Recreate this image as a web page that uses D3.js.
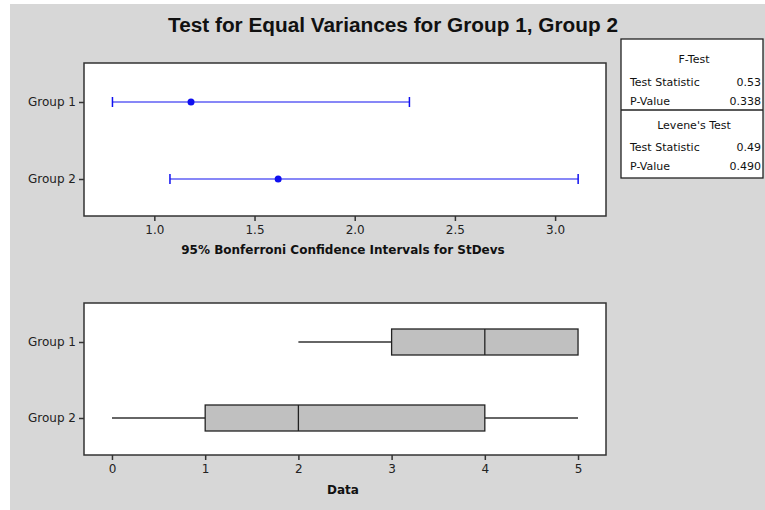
<!DOCTYPE html>
<html><head><meta charset="utf-8">
<script src="https://cdn.jsdelivr.net/npm/d3@7"></script>
<style>body{margin:0;background:#fff}svg{display:block}</style>
</head><body><svg id="c" width="765" height="510"></svg>
<script>
const groups = ["Group 1", "Group 2"];
const ciLow = [0.791, 1.078];
const ciEst = [1.183, 1.618];
const ciHigh = [2.273, 3.115];
const ciTicks = [1.0, 1.5, 2.0, 2.5, 3.0];
const boxMin = [2, 0];
const boxQ1 = [3, 1];
const boxMed = [4, 2];
const boxQ3 = [5, 4];
const boxMax = [5, 5];
const dataTicks = [0, 1, 2, 3, 4, 5];
const fTestRows = [["Test Statistic", "0.53"], ["P-Value", "0.338"]];
const leveneRows = [["Test Statistic", "0.49"], ["P-Value", "0.490"]];

const svg = d3.select("#c");
const FONT = "DejaVu Sans, Verdana, sans-serif";
svg.append("rect").attr("x", 10).attr("y", 4).attr("width", 755).attr("height", 506).attr("fill", "#d7d7d7");

svg.append("text").attr("x", 393).attr("y", 32).attr("text-anchor", "middle")
  .attr("font-family", "Liberation Sans, Arial, sans-serif").attr("font-weight", "bold")
  .attr("font-size", 20).attr("fill", "#111")
  .attr("textLength", 450).attr("lengthAdjust", "spacingAndGlyphs")
  .text("Test for Equal Variances for Group 1, Group 2");

function panel(top, bottom, xDomain) {
  const x = d3.scaleLinear().domain(xDomain).range([84, 606]);
  const y = d3.scalePoint().domain(groups).range([top + 39, bottom - 37]);
  svg.append("rect").attr("x", 84).attr("y", top).attr("width", 522).attr("height", bottom - top)
    .attr("fill", "#fff").attr("stroke", "#333").attr("stroke-width", 1.5);
  return {x, y};
}
function styleAxis(g) {
  g.select(".domain").remove();
  g.selectAll(".tick line").attr("stroke", "#333").attr("stroke-width", 1.5);
  g.selectAll(".tick text").attr("fill", "#222").attr("font-family", FONT).attr("font-size", 12);
}

// Top panel: CIs
const p1 = panel(63, 216, [0.649, 3.254]);
svg.append("g").attr("transform", "translate(0,216)")
  .call(d3.axisBottom(p1.x).tickValues(ciTicks).tickFormat(d3.format(".1f")).tickSize(5).tickPadding(4))
  .call(styleAxis);
svg.append("g").attr("transform", "translate(84,0)")
  .call(d3.axisLeft(p1.y).tickSize(5).tickPadding(3))
  .call(styleAxis);
svg.append("text").attr("x", 343).attr("y", 254).attr("text-anchor", "middle")
  .attr("font-family", FONT).attr("font-weight", "bold").attr("font-size", 12).attr("fill", "#111")
  .text("95% Bonferroni Confidence Intervals for StDevs");
const blue = "#1010f0";
groups.forEach((g, i) => {
  const yy = p1.y(g);
  svg.append("line").attr("x1", p1.x(ciLow[i])).attr("x2", p1.x(ciHigh[i])).attr("y1", yy).attr("y2", yy)
    .attr("stroke", blue).attr("stroke-width", 1.2);
  [ciLow[i], ciHigh[i]].forEach(v => svg.append("line").attr("x1", p1.x(v)).attr("x2", p1.x(v))
    .attr("y1", yy - 5).attr("y2", yy + 5).attr("stroke", blue).attr("stroke-width", 1.5));
  svg.append("circle").attr("cx", p1.x(ciEst[i])).attr("cy", yy).attr("r", 3.5).attr("fill", blue);
});

// Bottom panel: boxplots
const p2 = panel(303, 455, [-0.30, 5.30]);
svg.append("g").attr("transform", "translate(0,455)")
  .call(d3.axisBottom(p2.x).tickValues(dataTicks).tickFormat(d3.format("d")).tickSize(5).tickPadding(4))
  .call(styleAxis);
svg.append("g").attr("transform", "translate(84,0)")
  .call(d3.axisLeft(p2.y).tickSize(5).tickPadding(3))
  .call(styleAxis);
svg.append("text").attr("x", 343).attr("y", 494).attr("text-anchor", "middle")
  .attr("font-family", FONT).attr("font-weight", "bold").attr("font-size", 12).attr("fill", "#111")
  .text("Data");
groups.forEach((g, i) => {
  const yy = p2.y(g);
  const h = 26;
  svg.append("line").attr("x1", p2.x(boxMin[i])).attr("x2", p2.x(boxQ1[i])).attr("y1", yy).attr("y2", yy)
    .attr("stroke", "#333").attr("stroke-width", 1.3);
  svg.append("line").attr("x1", p2.x(boxQ3[i])).attr("x2", p2.x(boxMax[i])).attr("y1", yy).attr("y2", yy)
    .attr("stroke", "#333").attr("stroke-width", 1.3);
  svg.append("rect").attr("x", p2.x(boxQ1[i])).attr("y", yy - h / 2)
    .attr("width", p2.x(boxQ3[i]) - p2.x(boxQ1[i])).attr("height", h)
    .attr("fill", "#c0c0c0").attr("stroke", "#222").attr("stroke-width", 1.3);
  svg.append("line").attr("x1", p2.x(boxMed[i])).attr("x2", p2.x(boxMed[i]))
    .attr("y1", yy - h / 2).attr("y2", yy + h / 2).attr("stroke", "#222").attr("stroke-width", 1.3);
});

// Stats table
const tb = svg.append("g").attr("font-family", FONT).attr("font-size", 11).attr("fill", "#111");
tb.append("rect").attr("x", 621).attr("y", 39).attr("width", 142).attr("height", 139)
  .attr("fill", "#fff").attr("stroke", "#222").attr("stroke-width", 1.3);
tb.append("line").attr("x1", 621).attr("x2", 763).attr("y1", 110).attr("y2", 110)
  .attr("stroke", "#222").attr("stroke-width", 1.3);
function section(title, rows, yTitle, yRows) {
  tb.append("text").attr("x", 694).attr("y", yTitle).attr("text-anchor", "middle").text(title);
  rows.forEach((r, k) => {
    tb.append("text").attr("x", 630).attr("y", yRows[k]).text(r[0]);
    tb.append("text").attr("x", 761).attr("y", yRows[k]).attr("text-anchor", "end").text(r[1]);
  });
}
section("F-Test", fTestRows, 63, [86, 105]);
section("Levene's Test", leveneRows, 129, [151, 170]);
</script></body></html>
